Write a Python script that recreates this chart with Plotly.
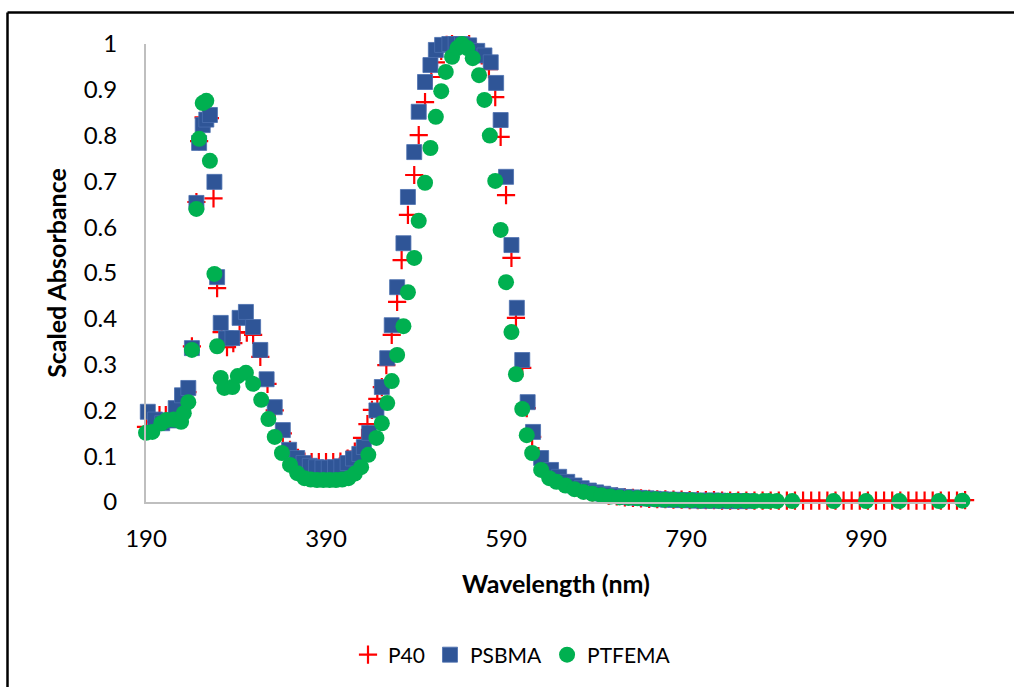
import plotly.graph_objects as go

# ---------------- data ----------------
p40_x = [190, 198, 205, 212, 220, 228, 236, 241, 246, 249, 254, 261, 265, 269, 274, 280, 287, 294, 302,
         309, 317, 325, 333, 342, 350, 358, 366, 374, 382, 390, 398, 406, 414, 422, 430, 436, 441, 447,
         452, 457, 463, 469, 474, 481, 488, 493, 500, 507, 512, 518, 524, 530, 536, 543, 549, 556, 563,
         571, 578, 584, 590, 596, 601, 608, 613, 619, 626, 634, 642, 650, 659, 668, 677, 686, 695, 704,
         713, 722, 731, 740, 749, 758, 767, 776, 785, 794, 803, 812, 821, 830, 839, 848, 857, 866, 875,
         884, 893, 902, 911, 920, 929, 938, 947, 956, 965, 974, 983, 992, 1001, 1010, 1019, 1028, 1037,
         1046, 1055, 1064, 1073, 1082, 1091, 1100]
p40_y = [0.164, 0.175, 0.19, 0.19, 0.19, 0.21, 0.24, 0.34, 0.655, 0.788, 0.84, 0.838, 0.663, 0.467, 0.371,
         0.338, 0.347, 0.371, 0.37, 0.365, 0.317, 0.258, 0.2, 0.15, 0.114, 0.095, 0.088, 0.087, 0.087,
         0.087, 0.087, 0.088, 0.095, 0.11, 0.14, 0.17, 0.201, 0.225, 0.251, 0.299, 0.365, 0.437, 0.528,
         0.627, 0.714, 0.801, 0.873, 0.928, 0.96, 0.985, 0.998, 1.0, 1.01, 1.01, 1.0, 0.99, 0.975, 0.945,
         0.884, 0.797, 0.67, 0.533, 0.402, 0.293, 0.205, 0.142, 0.1, 0.075, 0.06, 0.05, 0.04, 0.032,
         0.026, 0.021, 0.017, 0.014, 0.012, 0.01, 0.009, 0.008, 0.007, 0.006, 0.006, 0.005, 0.005, 0.004,
         0.004, 0.004, 0.004, 0.003, 0.003, 0.003, 0.003, 0.003, 0.003, 0.003, 0.003, 0.003, 0.003, 0.003,
         0.003, 0.003, 0.003, 0.003, 0.003, 0.003, 0.003, 0.003, 0.003, 0.003, 0.003, 0.003, 0.003, 0.003,
         0.003, 0.003, 0.003, 0.003, 0.003, 0.004]

psbma_x = [192, 200, 208, 216, 223, 230, 237, 241, 246, 249, 253, 257, 261, 266, 269, 273, 279, 286, 294,
           301, 309, 317, 324, 333, 342, 349, 358, 365, 372, 379, 386, 393, 400, 407, 414, 420, 427, 432,
           438, 446, 452, 458, 463, 469, 476, 481, 488, 493, 500, 506, 512, 519, 527, 534, 541, 549, 558,
           566, 573, 579, 584, 590, 596, 602, 608, 614, 620, 629, 640, 649, 658, 666, 674, 682, 690, 698,
           706, 714, 722, 730, 738, 746, 754, 762, 770, 778, 786, 794, 802, 810, 818, 826, 834, 842, 850,
           858]
psbma_y = [0.197, 0.18, 0.172, 0.178, 0.205, 0.233, 0.249, 0.336, 0.653, 0.784, 0.823, 0.835, 0.845, 0.699,
           0.491, 0.391, 0.357, 0.358, 0.402, 0.415, 0.382, 0.332, 0.268, 0.207, 0.157, 0.114, 0.096,
           0.085, 0.079, 0.076, 0.075, 0.075, 0.076, 0.078, 0.085, 0.095, 0.105, 0.12, 0.151, 0.2, 0.251,
           0.314, 0.386, 0.469, 0.565, 0.666, 0.764, 0.852, 0.917, 0.954, 0.987, 0.998, 1.0, 1.0, 1.0,
           0.997, 0.985, 0.975, 0.96, 0.915, 0.834, 0.71, 0.561, 0.424, 0.31, 0.218, 0.153, 0.096, 0.07,
           0.055, 0.044, 0.036, 0.03, 0.025, 0.021, 0.018, 0.015, 0.013, 0.011, 0.01, 0.009, 0.008, 0.007,
           0.006, 0.005, 0.005, 0.004, 0.004, 0.003, 0.003, 0.003, 0.003, 0.002, 0.002, 0.002, 0.002]

ptfema_x = [190, 197, 207, 213, 221, 229, 232, 237, 241, 246, 249, 253, 257, 261, 266, 269, 273, 277, 286,
            292, 301, 309, 318, 326, 333, 341, 350, 358, 366, 373, 380, 387, 394, 401, 408, 415, 422, 429,
            437, 446, 452, 458, 463, 469, 476, 481, 488, 493, 500, 506, 512, 518, 523, 530, 536, 541, 547,
            553, 560, 566, 572, 578, 584, 590, 596, 601, 608, 613, 619, 629, 638, 646, 656, 666, 676, 686,
            696, 706, 716, 726, 736, 746, 756, 766, 776, 786, 796, 806, 816, 826, 836, 846, 856, 866, 876,
            882, 891, 908, 954, 990, 1027, 1071, 1097]
ptfema_y = [0.151, 0.153, 0.172, 0.179, 0.18, 0.175, 0.194, 0.218, 0.332, 0.64, 0.793, 0.871, 0.876, 0.745,
            0.498, 0.34, 0.271, 0.249, 0.251, 0.275, 0.282, 0.258, 0.223, 0.181, 0.142, 0.107, 0.081,
            0.063, 0.052, 0.049, 0.048, 0.048, 0.048, 0.048, 0.049, 0.052, 0.062, 0.076, 0.103, 0.14,
            0.172, 0.216, 0.264, 0.321, 0.384, 0.458, 0.533, 0.614, 0.697, 0.773, 0.841, 0.897, 0.939,
            0.972, 0.991, 1.0, 0.991, 0.969, 0.932, 0.878, 0.8, 0.701, 0.594, 0.48, 0.371, 0.279, 0.203,
            0.146, 0.107, 0.07, 0.052, 0.044, 0.036, 0.028, 0.022, 0.018, 0.015, 0.012, 0.01, 0.009, 0.008,
            0.007, 0.006, 0.005, 0.005, 0.004, 0.004, 0.003, 0.003, 0.003, 0.003, 0.003, 0.003, 0.002,
            0.002, 0.002, 0.002, 0.002, 0.002, 0.002, 0.002, 0.002, 0.003]

x_ticks = [190, 390, 590, 790, 990]
y_ticks = [0, 0.1, 0.2, 0.3, 0.4, 0.5, 0.6, 0.7, 0.8, 0.9, 1]

FONT = "Lato"

fig = go.Figure()
fig.add_trace(go.Scatter(
    x=p40_x, y=p40_y, mode="markers", name="P40", cliponaxis=False,
    marker=dict(symbol="cross-thin", size=13, color="#FF0000",
                line=dict(color="#FF0000", width=2.2))))
fig.add_trace(go.Scatter(
    x=psbma_x, y=psbma_y, mode="markers", name="PSBMA", cliponaxis=False,
    marker=dict(symbol="square", size=15, color="#2F5597",
                line=dict(color="#4A6FAF", width=0.8))))
fig.add_trace(go.Scatter(
    x=ptfema_x, y=ptfema_y, mode="markers", name="PTFEMA", cliponaxis=False,
    marker=dict(symbol="circle", size=16, color="#00B050", line=dict(width=0))))

L, R, T, B = 146, 48, 44, 185
W, H = 1014, 687
pw, ph = W - L - R, H - T - B

def px(xp):
    return (xp - L) / pw

def py(yp):
    return (H - B - yp) / ph

fig.update_layout(
    width=W, height=H,
    margin=dict(l=L, r=R, t=T, b=B),
    paper_bgcolor="white", plot_bgcolor="white",
    font=dict(family=FONT, color="black"),
    showlegend=True,
    legend=dict(orientation="h", x=px(512), xanchor="center", y=py(655), yanchor="middle",
                font=dict(size=21, family=FONT, color="black"), itemwidth=30,
                traceorder="normal", bgcolor="rgba(0,0,0,0)"),
    xaxis=dict(range=[190, 1101], tickvals=x_ticks, ticktext=[str(v) for v in x_ticks],
               showgrid=False, zeroline=False, showline=True, linecolor="#BFBFBF", linewidth=2,
               ticks="", tickfont=dict(size=24, family=FONT, color="black"), ticklabelstandoff=14,
               title=dict(text="<b>Wavelength (nm)</b>", font=dict(size=25, family=FONT, color="black"),
                          standoff=25)),
    yaxis=dict(range=[0, 1], tickvals=y_ticks, ticktext=[f"{v:g}" for v in y_ticks],
               showgrid=False, zeroline=False, showline=True, linecolor="#BFBFBF", linewidth=2,
               ticks="", tickfont=dict(size=24, family=FONT, color="black"), ticklabelstandoff=22,
               title=dict(text="<b>Scaled Absorbance</b>", font=dict(size=25, family=FONT, color="black"),
                          standoff=10)),
    shapes=[
        dict(type="line", xref="paper", yref="paper", x0=px(7.5), x1=px(7.5), y0=py(12.5), y1=py(687),
             line=dict(color="black", width=2.5)),
        dict(type="line", xref="paper", yref="paper", x0=px(7.5), x1=px(1014), y0=py(12.5), y1=py(12.5),
             line=dict(color="black", width=2.5)),
    ],
)

fig.write_html("out.html")
